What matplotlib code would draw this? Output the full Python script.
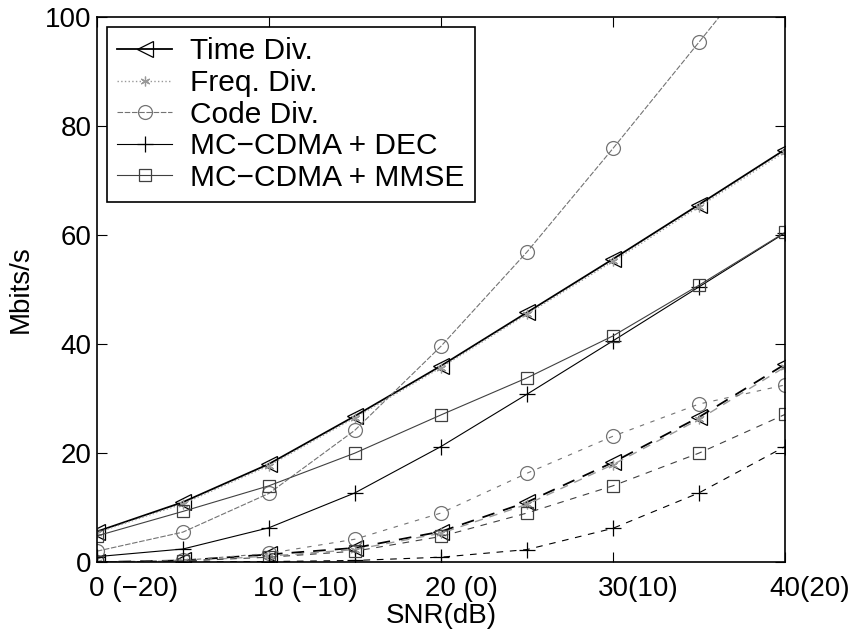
import numpy as np
import matplotlib.pyplot as plt
from matplotlib.transforms import ScaledTranslation

plt.rcParams['font.family'] = ['Liberation Sans', 'DejaVu Sans']

snr = [0, 5, 10, 15, 20, 25, 30, 35, 40]
tick_pos = [0, 10, 20, 30, 40]
tick_lab = ['0 (\u221220)', '10 (\u221210)', '20 (0)', '30(10)', '40(20)']
tick_num_len = [1, 2, 2, 2, 2]

# upper group (solid)
time_a = [5.6, 11.0, 18.0, 26.8, 36.0, 45.8, 55.6, 65.6, 75.7]
freq_a = [5.4, 10.7, 17.7, 26.5, 35.7, 45.5, 55.2, 65.2, 75.3]
code_a = [2.0, 5.5, 12.6, 24.2, 39.6, 56.9, 75.9, 95.4, 115.0]
dec_a = [1.0, 2.4, 6.3, 12.7, 21.2, 30.8, 40.6, 50.5, 60.4]
mmse_a = [4.8, 9.3, 14.0, 20.0, 27.0, 33.8, 41.5, 50.8, 60.5]

# lower group (dashed)
time_b = [0.0, 0.3, 1.4, 2.6, 5.6, 11.0, 18.3, 26.6, 36.3]
freq_b = [0.0, 0.2, 1.1, 2.3, 5.3, 10.6, 17.9, 26.2, 35.8]
code_b = [0.0, 0.3, 1.6, 4.2, 9.0, 16.3, 23.1, 29.0, 32.5]
dec_b = [0.0, 0.0, 0.1, 0.3, 0.9, 2.3, 6.2, 12.7, 21.2]
mmse_b = [0.0, 0.2, 0.9, 2.0, 4.7, 9.0, 14.0, 20.0, 27.1]

fig = plt.figure(figsize=(8.57, 6.33), dpi=100)
ax = fig.add_axes([0.113, 0.112, 0.803, 0.861])

asterisk = (6, 2, 0)
# name, upper, lower, colour, marker, lw, ms, upper style, lower dashes
styles = [
    ('Time Div.', time_a, time_b, 'black', '<', 1.3, 11, '-', (7, 5)),
    ('Freq. Div.', freq_a, freq_b, '0.6', asterisk, 1.0, 7, ':', (6, 5)),
    ('Code Div.', code_a, code_b, '0.45', 'o', 0.8, 10, (0, (5, 1.5)), (4, 6)),
    ('MC\u2212CDMA + DEC', dec_a, dec_b, 'black', '+', 0.8, 11, '-', (6, 6)),
    ('MC\u2212CDMA + MMSE', mmse_a, mmse_b, '0.25', 's', 0.8, 9, '-', (6, 6)),
]

for name, ya, yb, col, mk, lw, ms, ls_a, ds_b in styles:
    ax.plot(snr, ya, linestyle=ls_a, color=col, lw=lw, marker=mk, ms=ms,
            mfc='none', mec=col, mew=0.9, label=name)
    ax.plot(snr, yb, '--', color=col, lw=lw, marker=mk, ms=ms,
            mfc='none', mec=col, mew=0.9, dashes=ds_b)

ax.set_xlim(0, 40)
ax.set_ylim(0, 100)
ax.set_xticks(tick_pos)
ax.set_xticklabels(tick_lab)
ax.set_yticks([0, 20, 40, 60, 80, 100])
ax.tick_params(direction='in', top=True, right=True, length=7,
               labelsize=20)
ax.tick_params(axis='x', pad=10)
ax.tick_params(axis='y', pad=4)

# number part of each label centred on its tick
for lab, n in zip(ax.get_xticklabels(), tick_num_len):
    lab.set_horizontalalignment('left')
    shift = -n * 0.556 * 20 / 72 / 2
    lab.set_transform(lab.get_transform() + ScaledTranslation(shift, 0, fig.dpi_scale_trans))

for s in ax.spines.values():
    s.set_linewidth(1.2)
ax.set_xlabel('SNR(dB)', fontsize=20, labelpad=1)
ax.set_ylabel('Mbits/s', fontsize=20, labelpad=8)

leg = ax.legend(loc='upper left', fontsize=21.5, frameon=True, fancybox=False,
                edgecolor='black', framealpha=1, labelspacing=0.12,
                handlelength=1.85, borderaxespad=0.33, handletextpad=0.6,
                borderpad=0.35)
leg.get_frame().set_linewidth(1.2)

fig.savefig('out.png', dpi=100)
